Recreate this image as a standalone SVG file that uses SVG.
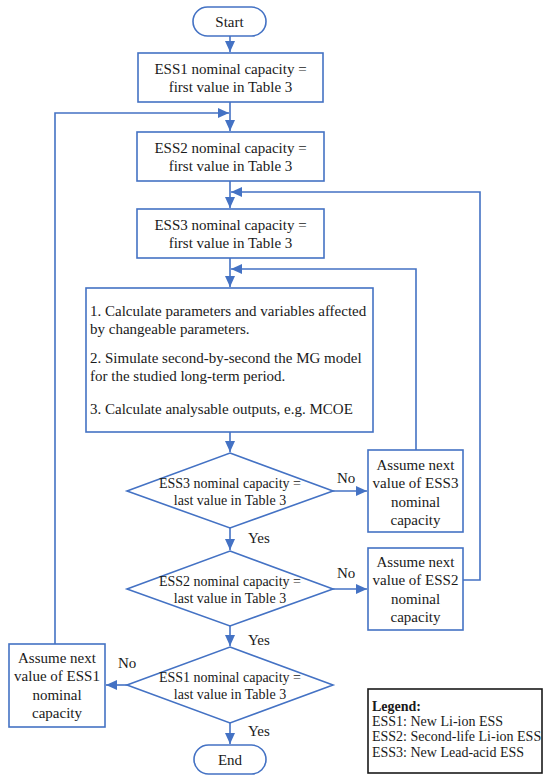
<svg xmlns="http://www.w3.org/2000/svg" width="550" height="782" viewBox="0 0 550 782">
<style>
.n{fill:#fff;stroke:#4472C4;stroke-width:1.6}
.c{fill:none;stroke:#4472C4;stroke-width:1.6}
.m{text-anchor:middle}
.d{font-size:14px}
.lg{font-size:14px}
</style>
<defs>
<marker id="a" markerUnits="userSpaceOnUse" markerWidth="12" markerHeight="10" refX="11" refY="5" orient="auto">
<path d="M0,0 L11,5 L0,10 Z" fill="#4472C4"/>
</marker>
</defs>
<rect width="550" height="782" fill="#fff"/>
<g font-family="Liberation Serif, serif" font-size="15" fill="#1a1a1a">
<g id="connectors">
<path class="c" d="M230,36 V52" marker-end="url(#a)"/>
<path class="c" d="M230,102 V131" marker-end="url(#a)"/>
<path class="c" d="M55,644 V113 H229" marker-end="url(#a)"/>
<path class="c" d="M230,181 V208" marker-end="url(#a)"/>
<path class="c" d="M463,580 H480 V192 H231" marker-end="url(#a)"/>
<path class="c" d="M230,258 V287" marker-end="url(#a)"/>
<path class="c" d="M416,450 V269 H231" marker-end="url(#a)"/>
<path class="c" d="M230,432 V452" marker-end="url(#a)"/>
<path class="c" d="M333,491 H367" marker-end="url(#a)"/>
<path class="c" d="M230,528 V550" marker-end="url(#a)"/>
<path class="c" d="M333,589 H367" marker-end="url(#a)"/>
<path class="c" d="M230,626 V646" marker-end="url(#a)"/>
<path class="c" d="M127,685 H106" marker-end="url(#a)"/>
<path class="c" d="M230,723 V744" marker-end="url(#a)"/>
</g>
<g id="start">
<rect class="n" x="193" y="7" width="73" height="29" rx="14.5"/>
<text class="m" x="229.5" y="27">Start</text>
</g>
<g id="box1">
<rect class="n" x="138" y="53" width="185" height="49"/>
<text class="m" x="230.5" y="74">ESS1 nominal capacity =</text>
<text class="m" x="230.5" y="92">first value in Table 3</text>
</g>
<g id="box2">
<rect class="n" x="137" y="132" width="187" height="49"/>
<text class="m" x="230.5" y="153">ESS2 nominal capacity =</text>
<text class="m" x="230.5" y="171">first value in Table 3</text>
</g>
<g id="box3">
<rect class="n" x="137" y="209" width="187" height="49"/>
<text class="m" x="230.5" y="230">ESS3 nominal capacity =</text>
<text class="m" x="230.5" y="248">first value in Table 3</text>
</g>
<g id="box4">
<rect class="n" x="86" y="288" width="287" height="144"/>
<text x="90" y="316">1. Calculate parameters and variables affected</text>
<text x="90" y="334">by changeable parameters.</text>
<text x="90" y="363">2. Simulate second-by-second the MG model</text>
<text x="90" y="381">for the studied long-term period.</text>
<text x="90" y="414">3. Calculate analysable outputs, e.g. MCOE</text>
</g>
<g id="dec3">
<polygon class="n" points="230,453 333,491 230,528 127,491"/>
<text class="m d" x="230" y="488">ESS3 nominal capacity =</text>
<text class="m d" x="230" y="505">last value in Table 3</text>
</g>
<g id="dec2">
<polygon class="n" points="230,551 333,589 230,626 127,589"/>
<text class="m d" x="230" y="586">ESS2 nominal capacity =</text>
<text class="m d" x="230" y="603">last value in Table 3</text>
</g>
<g id="dec1">
<polygon class="n" points="230,647 333,685 230,723 127,685"/>
<text class="m d" x="230" y="682">ESS1 nominal capacity =</text>
<text class="m d" x="230" y="699">last value in Table 3</text>
</g>
<g id="next3">
<rect class="n" x="368" y="450" width="95" height="82"/>
<text class="m" x="415.5" y="470">Assume next</text>
<text class="m" x="415.5" y="488">value of ESS3</text>
<text class="m" x="415.5" y="507">nominal</text>
<text class="m" x="415.5" y="525">capacity</text>
</g>
<g id="next2">
<rect class="n" x="368" y="548" width="95" height="82"/>
<text class="m" x="415.5" y="567">Assume next</text>
<text class="m" x="415.5" y="585">value of ESS2</text>
<text class="m" x="415.5" y="604">nominal</text>
<text class="m" x="415.5" y="622">capacity</text>
</g>
<g id="next1">
<rect class="n" x="9" y="644" width="96" height="83"/>
<text class="m" x="57" y="663">Assume next</text>
<text class="m" x="57" y="681">value of ESS1</text>
<text class="m" x="57" y="700">nominal</text>
<text class="m" x="57" y="718">capacity</text>
</g>
<g id="labels">
<text x="337" y="483">No</text>
<text x="248" y="543">Yes</text>
<text x="337" y="578">No</text>
<text x="248" y="645">Yes</text>
<text x="118" y="668">No</text>
<text x="248" y="736">Yes</text>
</g>
<g id="end">
<rect class="n" x="194" y="745" width="72" height="29" rx="14.5"/>
<text class="m" x="230" y="765">End</text>
</g>
<g id="legend">
<rect x="368" y="689" width="174" height="84" fill="#fff" stroke="#1a1a1a" stroke-width="1.6"/>
<text class="lg" x="372" y="711" font-weight="bold">Legend:</text>
<text class="lg" x="372" y="726">ESS1: New Li-ion ESS</text>
<text class="lg" x="372" y="741">ESS2: Second-life Li-ion ESS</text>
<text class="lg" x="372" y="757">ESS3: New Lead-acid ESS</text>
</g>
</g>
</svg>
